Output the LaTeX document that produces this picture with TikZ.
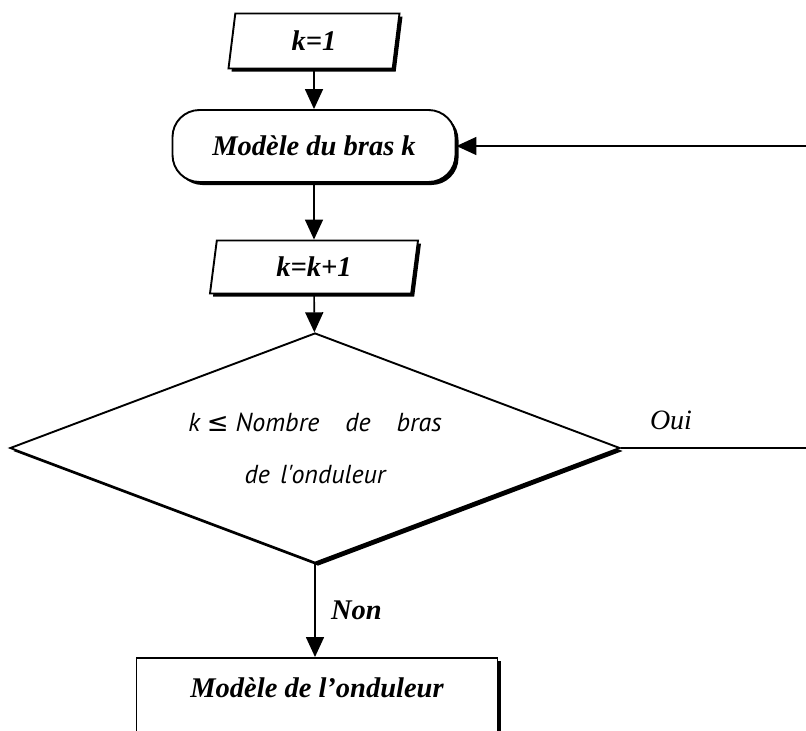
\documentclass[tikz,border=0pt]{standalone}
\usepackage{fontspec}
\setmainfont{Liberation Serif}
\newfontfamily\condfont{PT Sans}
\newfontfamily\symfont{DejaVu Sans}
\usetikzlibrary{shapes.geometric}
\usetikzlibrary{shadows}
\usetikzlibrary{arrows.meta}
\usetikzlibrary{positioning}

\begin{document}
\begin{tikzpicture}[x=1pt,y=-1pt,
	font=\fontsize{28.5}{32}\selectfont\bfseries\itshape,
	flow/.style={line width=1.6pt,-{Triangle[length=20pt,width=18pt]}},
	shade/.style={drop shadow={shadow xshift=3pt,shadow yshift=-3pt,opacity=1,fill=black}},
	databox/.style={trapezium,trapezium left angle=71,trapezium right angle=109,trapezium stretches body,draw,line width=1.9pt,fill=white,shade,inner sep=0pt},
	procbox/.style={rectangle,draw,line width=1.9pt,fill=white,shade,inner sep=0pt},
	testbox/.style={diamond,aspect=2.65,draw,line width=1.9pt,fill=white,shade,inner sep=0pt,align=center,font=\condfont\itshape\fontsize{26}{52}\selectfont}]
	\useasboundingbox (0,0) rectangle (806,731);
	
	\node [databox,minimum width=171pt,minimum height=55pt] (k1) at (314,41) {k=1};
	\node [procbox,rounded corners=27pt,minimum width=283pt,minimum height=72pt] (bras) at (314,146) {Modèle du bras k};
	\node [databox,minimum width=208pt,minimum height=53pt] (kk) at (314,267) {k=k+1};
	\node [testbox,minimum width=610pt,minimum height=230pt] (test) at (315,448) {k {\symfont\mdseries ≤} Nombre\hspace{1em}de\hspace{1em}bras\\de\hspace{.4em}l'onduleur};
	\node [procbox,minimum width=361pt,text height=30pt,text depth=70pt,inner ysep=10pt,anchor=north] (ond) at (317,657) {Modèle de l’onduleur};
	
	\draw[flow] (k1) -- (bras);
	\draw[flow] (bras) -- (kk);
	\draw[flow] (kk) -- (test);
	\draw[flow] (test.south) -- (test.south |- ond.north) node[midway,right=12pt]{Non};
	
	% retour vers le bras suivant
	\coordinate (ret) at (830,448);
	\draw[flow] (test.east) -- (ret) |- (bras.east);
	\node [font=\fontsize{28}{32}\selectfont\itshape] (oui) at (671,420) {Oui};
	
\end{tikzpicture}
\end{document}
